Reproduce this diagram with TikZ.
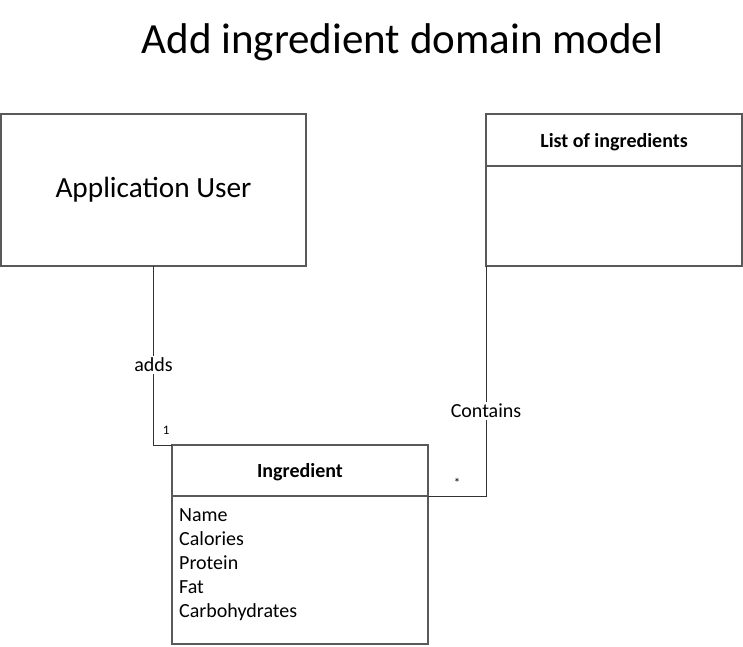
\documentclass[tikz,border=0pt]{standalone}
\usepackage{fontspec}
\setmainfont{Carlito}
\usetikzlibrary{positioning}

\begin{document}
\begin{tikzpicture}[
		x=1pt, y=-1pt,
		every node/.style = {
			font=\fontsize{20}{24}\selectfont
		},
		umlbox/.style = {
			shape=rectangle,
			draw=black!65,
			line width=1.2pt,
			fill=white,
			inner sep=0pt,
			outer sep=0pt
		},
		classhead/.style = {
			umlbox,
			minimum width=256pt,
			text depth=0pt,
			font=\fontsize{20}{24}\selectfont\bfseries
		},
		classbody/.style = {
			umlbox,
			minimum width=256pt
		},
		attrlist/.style = {
			align=left,
			inner sep=0pt
		},
		assoc/.style = {
			draw=black!80,
			line width=1pt
		},
		tag/.style = {
			fill=white,
			inner sep=2pt
		},
		mult/.style = {
			inner sep=0pt,
			font=\fontsize{13}{15}\selectfont
		}
		]
		\useasboundingbox (0,0) rectangle (743,646);
		\node[anchor=base, font=\fontsize{43}{50}\selectfont] (title) at (402.5,53) {Add ingredient domain model};
		% actor
		\node[umlbox, minimum width=305pt, minimum height=152pt, font=\fontsize{29.3}{34}\selectfont] (user) at (153.5,190) {Application User};
		% list class
		\node[classhead, minimum height=52pt] (listhead) at (614,140) {List of ingredients};
		\node[classbody, minimum height=100pt, below=0pt of listhead] (listbody) {};
		% ingredient class
		\node[classhead, minimum height=51pt] (inghead) at (300,470.5) {Ingredient};
		\node[classbody, minimum height=148pt, below=0pt of inghead] (ingbody) {};
		\node[attrlist, below right=12pt and 7pt of ingbody.north west] (ingattrs) {Name\\Calories\\Protein\\Fat\\Carbohydrates};
		% associations
		\draw[assoc] (user.south) |- (inghead.north west)
			node[tag, pos=0.276] {adds}
			node[mult, pos=1, anchor=south east, xshift=-2pt, yshift=10pt] {1};
		\draw[assoc] (listbody.south west) |- (inghead.south east)
			node[tag, pos=0.315] {Contains}
			node[mult, pos=0.75, anchor=south, yshift=8pt] {*};
	\end{tikzpicture}
\end{document}
